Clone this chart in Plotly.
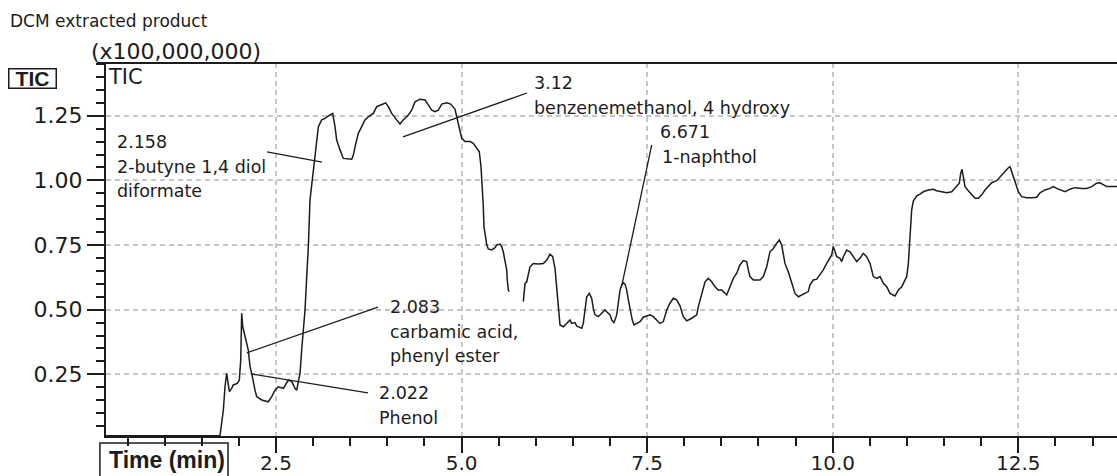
import plotly.graph_objects as go

# Total ion chromatogram (retention time in min, intensity in units of 1e8)
time_a = [0.21, 1.70, 1.746, 1.791, 1.813, 1.836, 1.872, 1.903, 1.925, 1.979, 2.006, 2.025,
          2.038, 2.052, 2.083, 2.127, 2.150, 2.173, 2.217, 2.240, 2.307, 2.397, 2.442, 2.487,
          2.532, 2.599, 2.666, 2.712, 2.756, 2.779, 2.801, 2.824, 2.846, 2.868, 2.891, 2.914,
          2.936, 2.958, 3.003, 3.026, 3.049, 3.071, 3.116, 3.160, 3.228, 3.264, 3.295, 3.318,
          3.363, 3.407, 3.520, 3.542, 3.565, 3.609, 3.655, 3.699, 3.744, 3.811, 3.857, 3.924,
          3.978, 4.013, 4.059, 4.126, 4.171, 4.215, 4.283, 4.328, 4.373, 4.440, 4.508, 4.552,
          4.598, 4.642, 4.687, 4.733, 4.800, 4.854, 4.889, 4.912, 4.935, 4.956, 4.979, 5.002,
          5.047, 5.114, 5.158, 5.204, 5.239, 5.262, 5.280, 5.293, 5.302, 5.316, 5.339, 5.360,
          5.406, 5.451, 5.473, 5.518, 5.541, 5.562, 5.585, 5.608, 5.616, 5.630, 5.643]
tic_a = [0.013, 0.013, 0.013, 0.112, 0.202, 0.254, 0.183, 0.196, 0.209, 0.215, 0.228, 0.305,
         0.486, 0.434, 0.396, 0.344, 0.280, 0.254, 0.189, 0.164, 0.151, 0.144, 0.164, 0.189,
         0.202, 0.196, 0.228, 0.222, 0.196, 0.189, 0.222, 0.254, 0.344, 0.409, 0.499, 0.628,
         0.744, 0.924, 1.040, 1.079, 1.143, 1.208, 1.234, 1.240, 1.253, 1.259, 1.208, 1.156,
         1.118, 1.085, 1.082, 1.098, 1.130, 1.182, 1.208, 1.234, 1.246, 1.259, 1.285, 1.295,
         1.300, 1.285, 1.259, 1.234, 1.218, 1.234, 1.253, 1.272, 1.304, 1.314, 1.311, 1.292,
         1.272, 1.266, 1.272, 1.295, 1.300, 1.295, 1.285, 1.275, 1.246, 1.221, 1.188, 1.163,
         1.150, 1.150, 1.143, 1.124, 1.111, 1.053, 0.976, 0.900, 0.821, 0.790, 0.752, 0.735,
         0.731, 0.740, 0.750, 0.754, 0.744, 0.724, 0.692, 0.654, 0.615, 0.576, 0.570]

time_b = [5.832, 5.841, 5.855, 5.878, 5.899, 5.922, 5.967, 6.034, 6.101, 6.147, 6.192, 6.228,
          6.259, 6.282, 6.304, 6.326, 6.371, 6.417, 6.461, 6.484, 6.528, 6.551, 6.619, 6.640,
          6.663, 6.686, 6.721, 6.753, 6.775, 6.798, 6.842, 6.888, 6.933, 6.955, 7.000, 7.023,
          7.054, 7.090, 7.112, 7.135, 7.158, 7.179, 7.202, 7.225, 7.247, 7.269, 7.300, 7.323,
          7.360, 7.404, 7.449, 7.494, 7.539, 7.583, 7.629, 7.673, 7.718, 7.764, 7.808, 7.853,
          7.898, 7.943, 7.987, 8.033, 8.101, 8.168, 8.190, 8.235, 8.280, 8.324, 8.370, 8.414,
          8.459, 8.505, 8.572, 8.616, 8.661, 8.707, 8.751, 8.796, 8.841, 8.863, 8.886, 8.931,
          9.021, 9.065, 9.111, 9.155, 9.200, 9.246, 9.281, 9.313, 9.357, 9.402, 9.448, 9.492,
          9.537, 9.582, 9.627, 9.671, 9.694, 9.739, 9.785, 9.829, 9.873, 9.919, 9.964, 9.986,
          10.008, 10.031, 10.054, 10.098, 10.121, 10.143, 10.189, 10.233, 10.278, 10.323, 10.368,
          10.412, 10.458, 10.503, 10.525, 10.547, 10.593, 10.637, 10.660, 10.682, 10.728, 10.772,
          10.839, 10.884, 10.930, 10.951, 10.997, 11.019, 11.041, 11.064, 11.086, 11.132, 11.176,
          11.221, 11.288, 11.355, 11.401, 11.468, 11.536, 11.603, 11.648, 11.679, 11.706, 11.724,
          11.742, 11.760, 11.782, 11.827, 11.873, 11.917, 11.962, 12.007, 12.052, 12.096, 12.142,
          12.209, 12.254, 12.321, 12.366, 12.389, 12.412, 12.456, 12.501, 12.546, 12.613, 12.681,
          12.748, 12.793, 12.860, 12.927, 12.972, 13.018, 13.062, 13.130, 13.197, 13.264, 13.354,
          13.422, 13.489, 13.556, 13.601, 13.645, 13.691, 13.781, 13.830]
tic_b = [0.531, 0.576, 0.602, 0.608, 0.641, 0.666, 0.679, 0.677, 0.679, 0.692, 0.715, 0.705,
         0.660, 0.576, 0.486, 0.441, 0.434, 0.447, 0.460, 0.447, 0.450, 0.437, 0.428, 0.447,
         0.512, 0.550, 0.563, 0.544, 0.505, 0.480, 0.473, 0.486, 0.499, 0.492, 0.480, 0.460,
         0.450, 0.480, 0.525, 0.576, 0.596, 0.604, 0.599, 0.576, 0.538, 0.499, 0.460, 0.441,
         0.447, 0.454, 0.471, 0.476, 0.480, 0.473, 0.460, 0.447, 0.454, 0.499, 0.525, 0.544,
         0.538, 0.515, 0.473, 0.457, 0.467, 0.480, 0.512, 0.563, 0.608, 0.621, 0.608, 0.589,
         0.576, 0.576, 0.557, 0.589, 0.621, 0.641, 0.673, 0.690, 0.686, 0.654, 0.628, 0.615,
         0.615, 0.628, 0.666, 0.724, 0.737, 0.757, 0.770, 0.750, 0.679, 0.647, 0.602, 0.563,
         0.550, 0.557, 0.563, 0.570, 0.596, 0.615, 0.618, 0.634, 0.654, 0.679, 0.699, 0.712,
         0.744, 0.724, 0.705, 0.699, 0.686, 0.705, 0.731, 0.724, 0.705, 0.686, 0.699,
         0.718, 0.705, 0.679, 0.654, 0.628, 0.621, 0.628, 0.615, 0.602, 0.589, 0.563,
         0.553, 0.576, 0.589, 0.602, 0.628, 0.679, 0.790, 0.886, 0.920, 0.940, 0.947,
         0.956, 0.963, 0.966, 0.960, 0.956, 0.952, 0.956, 0.969, 0.978, 0.989, 1.027,
         1.043, 1.014, 0.976, 0.960, 0.944, 0.931, 0.931, 0.944, 0.963, 0.978, 0.991,
         0.999, 1.014, 1.034, 1.049, 1.053, 1.034, 0.995, 0.956, 0.937, 0.933, 0.933,
         0.935, 0.952, 0.963, 0.969, 0.976, 0.969, 0.963, 0.956, 0.966, 0.972, 0.969,
         0.969, 0.976, 0.989, 0.991, 0.982, 0.976, 0.976, 0.976]

# Peak labels: text lines and their anchor (time, intensity)
label_lines = ["2.158", "2-butyne 1,4 diol", "diformate",
               "3.12", "benzenemethanol, 4 hydroxy",
               "6.671", "1-naphthol",
               "2.083", "carbamic acid,", "phenyl ester",
               "2.022", "Phenol"]
label_time = [0.331, 0.331, 0.331,
              5.949, 5.949,
              7.651, 7.673,
              4.013, 4.013, 4.013,
              3.857, 3.857]
label_tic = [1.150, 1.053, 0.960,
             1.377, 1.280,
             1.188, 1.092,
             0.512, 0.415, 0.321,
             0.179, 0.082]

# Leader lines from each label to its peak: (t0, t1), (I0, I1)
leader_time = [(2.379, 3.120), (5.882, 4.211), (7.158, 7.562), (3.874, 2.107), (2.177, 3.739)]
leader_tic = [(1.110, 1.071), (1.338, 1.168), (0.592, 1.137), (0.510, 0.333), (0.251, 0.178)]

# Axis setup
x_range = [0.21, 13.83]
y_range = [0.0116, 1.454]
x_major, x_minor = 2.5, 0.5
y_major, y_minor = 0.25, 0.05

INK = "#1c1c1c"
GRID = "#c6c6c6"
FONT = "DejaVu Sans"

fig = go.Figure()

fig.add_trace(go.Scatter(
    x=time_a + [None] + time_b, y=tic_a + [None] + tic_b,
    mode="lines", line=dict(color=INK, width=1.5),
    connectgaps=False, showlegend=False, hoverinfo="skip"))

for lt, li in zip(leader_time, leader_tic):
    fig.add_trace(go.Scatter(
        x=list(lt), y=list(li), mode="lines",
        line=dict(color=INK, width=1.3), showlegend=False, hoverinfo="skip"))

for text, t, v in zip(label_lines, label_time, label_tic):
    fig.add_annotation(x=t, y=v, xref="x", yref="y", text=text, showarrow=False,
                       xanchor="left", yanchor="middle",
                       font=dict(family=FONT, size=17.5, color=INK))

# Header texts and boxed axis captions
fig.add_annotation(xref="paper", yref="paper", x=0, y=1, xshift=-98, yshift=42,
                   text="DCM extracted product", showarrow=False,
                   xanchor="left", yanchor="middle",
                   font=dict(family=FONT, size=17, color=INK))
fig.add_annotation(xref="paper", yref="paper", x=0, y=1, xshift=-17, yshift=12,
                   text="(x100,000,000)", showarrow=False,
                   xanchor="left", yanchor="middle",
                   font=dict(family=FONT, size=22, color=INK))
fig.add_annotation(xref="paper", yref="paper", x=0, y=1, xshift=0, yshift=-14,
                   text="TIC", showarrow=False, xanchor="left", yanchor="middle",
                   font=dict(family=FONT, size=21, color=INK))
fig.add_annotation(xref="paper", yref="paper", x=0, y=1, xshift=-73.5, yshift=-15,
                   text="<b>TIC</b>", showarrow=False, xanchor="center", yanchor="middle",
                   width=46, height=18, borderpad=0,
                   bordercolor=INK, borderwidth=1.5, bgcolor="white",
                   font=dict(family="Liberation Sans", size=21, color=INK))
fig.add_annotation(xref="paper", yref="paper", x=0, y=0, xshift=1, yshift=-24,
                   text="<b>Time (min)</b>", showarrow=False, xanchor="left", yanchor="middle",
                   font=dict(family="Liberation Sans", size=23, color=INK))

# Frame line along the top and box around the time caption
fig.add_shape(type="line", xref="paper", yref="paper", x0=-0.009, x1=1.0, y0=1, y1=1,
              line=dict(color=INK, width=2))
fig.add_shape(type="rect", xref="paper", yref="paper",
              x0=-0.006, x1=0.1207, y0=-0.0188, y1=-0.13,
              line=dict(color=INK, width=1.5), layer="above")

fig.update_xaxes(
    range=x_range, tick0=0, dtick=x_major, tickformat=".1f",
    automargin=False, ticklabelstandoff=-7,
    showline=True, linecolor=INK, linewidth=2,
    ticks="outside", ticklen=15, tickwidth=2, tickcolor=INK,
    showgrid=True, gridcolor=GRID, gridwidth=1.5, griddash="5px,4px",
    zeroline=False,
    minor=dict(tick0=0, dtick=x_minor, ticks="outside", ticklen=8, tickwidth=1.5,
               tickcolor=INK, showgrid=False),
    tickfont=dict(family=FONT, size=20, color=INK))
fig.update_yaxes(
    range=y_range, tick0=0, dtick=y_major, tickformat=".2f",
    automargin=False,
    showline=True, linecolor=INK, linewidth=2,
    ticks="outside", ticklen=17, tickwidth=2, tickcolor=INK,
    showgrid=True, gridcolor=GRID, gridwidth=1.5, griddash="5px,4px",
    zeroline=False,
    minor=dict(tick0=0, dtick=y_minor, ticks="outside", ticklen=8, tickwidth=1.5,
               tickcolor=INK, showgrid=False),
    tickfont=dict(family=FONT, size=22, color=INK))

fig.update_layout(
    width=1117, height=476,
    margin=dict(l=106, r=0, t=63, b=40, pad=0, autoexpand=False),
    paper_bgcolor="white", plot_bgcolor="white",
    showlegend=False)

fig.write_html("out.html")
